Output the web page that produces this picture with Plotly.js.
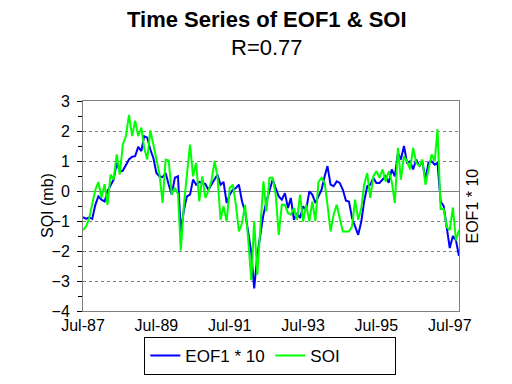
<!DOCTYPE html>
<html><head><meta charset="utf-8">
<script src="https://cdn.plot.ly/plotly-3.0.1.min.js"></script>
<style>html,body{margin:0;padding:0;background:#fff}#chart{width:512px;height:384px}</style>
</head><body><div id="chart"></div>
<script>
// Monthly values, Jul-1987 .. Oct-1997
const startYear = 1987, startMonth = 7;
const eof1x10 = [
 -0.87,-0.93,-0.88,-0.93,-0.46,-0.18,-0.29,-0.35,0.00,0.19,0.38,0.94,
 0.64,0.68,0.88,1.05,1.14,1.16,1.47,1.33,1.83,1.78,1.39,1.10,
 0.60,0.49,0.46,0.60,0.21,-0.12,0.44,0.49,-1.35,-0.63,-0.18,-0.12,
 0.38,0.21,0.30,0.27,0.23,0.04,0.21,0.38,0.55,0.21,0.30,-0.40,
 -0.12,0.04,0.10,0.21,-0.35,-0.68,-1.35,-2.05,-3.25,-2.15,-1.46,-0.79,
 -0.35,-0.01,0.38,0.10,-0.18,-0.29,-0.07,-0.57,-0.23,-0.96,-0.74,-0.90,
 -0.51,-0.63,-0.01,-0.12,-0.40,-0.18,0.04,0.49,0.83,0.21,0.16,0.32,
 0.27,0.04,-0.32,-0.35,-0.90,-1.18,-1.46,-1.02,-0.35,0.16,0.21,0.44,
 0.27,0.27,0.38,0.49,0.27,0.72,0.49,1.27,1.05,1.50,0.94,0.99,
 0.72,1.05,0.83,0.99,0.38,0.94,0.99,0.88,0.94,-0.35,-0.50,-1.30,
 -1.90,-1.50,-1.65,-2.17
];
const soi = [
 -1.30,-1.18,-0.90,-0.46,0.04,0.30,-0.23,0.23,-0.46,0.55,0.38,1.22,
 0.55,1.55,1.83,2.54,1.83,2.34,1.83,2.11,1.44,1.05,2.02,1.55,
 1.10,0.55,-0.40,1.05,1.02,-0.12,0.10,-0.10,-1.98,-0.46,0.55,1.55,
 0.49,0.94,-0.35,0.49,-0.23,0.00,0.35,1.00,0.49,-0.96,-0.51,-1.02,
 0.10,0.21,-0.46,-1.35,-1.07,-0.46,-1.60,-2.97,-1.00,-2.80,-1.24,0.32,
 -0.68,0.44,0.44,-0.12,-1.46,-0.46,-0.46,-0.74,-0.79,-0.57,-0.96,-0.12,
 -1.02,-0.46,-1.02,-0.35,-1.00,0.30,0.44,0.27,-0.46,-1.35,-0.79,-0.46,
 -0.90,-1.35,-1.35,-1.35,-1.18,-0.29,-0.96,-0.57,0.21,0.60,-0.23,0.49,
 0.66,0.44,0.72,0.32,0.66,0.32,-0.40,1.44,0.38,1.16,0.99,0.72,
 1.44,0.94,0.83,1.05,0.21,0.72,1.22,0.99,2.06,-0.60,-0.60,-1.20,
 -1.30,-0.55,-1.65,-1.30
];
const tickVals = ['1987-07-01','1989-07-01','1991-07-01','1993-07-01','1995-07-01','1997-07-01'];
const tickText = ['Jul-87','Jul-89','Jul-91','Jul-93','Jul-95','Jul-97'];

const months = eof1x10.map((_, i) => {
  const t = startMonth - 1 + i;
  const y = startYear + Math.floor(t / 12), m = (t % 12) + 1;
  return y + '-' + String(m).padStart(2, '0') + '-01';
});

const F = 'Arial, "Liberation Sans", sans-serif';
const traces = [
  {x: months, y: eof1x10, type: 'scatter', mode: 'lines', name: 'EOF1 * 10',
   line: {color: '#0000FF', width: 2}},
  {x: months, y: soi, type: 'scatter', mode: 'lines', name: 'SOI',
   line: {color: '#00FF00', width: 2}}
];
const layout = {
  width: 512, height: 384,
  paper_bgcolor: '#fff', plot_bgcolor: '#fff',
  margin: {l: 83, r: 53, t: 101, b: 73},
  font: {family: F, color: '#000'},
  showlegend: true,
  legend: {orientation: 'h', xref: 'container', yref: 'container',
           x: 0.528, xanchor: 'center', y: 0.073, yanchor: 'middle',
           bordercolor: '#000', borderwidth: 1, font: {size: 17, family: F},
           tracegroupgap: 0, itemwidth: 30, entrywidth: 80, entrywidthmode: 'pixels'},
  xaxis: {type: 'date', range: ['1987-07-01', '1997-10-01'],
          tickvals: tickVals, ticktext: tickText, tickangle: 0,
          tickfont: {size: 16, family: F}, ticks: '',
          showgrid: false, zeroline: false,
          showline: true, linecolor: '#808080', linewidth: 1, mirror: true},
  yaxis: {range: [-4, 3], dtick: 1, tick0: 0,
          tickfont: {size: 16, family: F}, ticklabelstandoff: 4,
          ticks: 'outside', ticklen: 5, tickcolor: '#000',
          minor: {dtick: 0.5, ticks: 'outside', ticklen: 4, tickcolor: '#000', showgrid: false},
          showgrid: true, gridcolor: '#808080', griddash: 'dot', gridwidth: 1,
          zeroline: true, zerolinecolor: '#808080', zerolinewidth: 1,
          showline: true, linecolor: '#808080', linewidth: 1, mirror: true},
  annotations: [
    {text: '<b>Time Series of EOF1 & SOI</b>', xref: 'paper', yref: 'paper',
     x: 0.49, xanchor: 'center', y: 1.386, yanchor: 'middle', showarrow: false,
     font: {size: 22, family: F, color: '#000'}},
    {text: 'R=0.77', xref: 'paper', yref: 'paper',
     x: 0.49, xanchor: 'center', y: 1.257, yanchor: 'middle', showarrow: false,
     font: {size: 22, family: F, color: '#000'}},
    {text: 'SOI (mb)', xref: 'paper', yref: 'paper', x: -0.0957, xanchor: 'center',
     y: 0.5, yanchor: 'middle', textangle: -90, showarrow: false,
     font: {size: 16, family: F, color: '#000'}},
    {text: 'EOF1 * 10', xref: 'paper', yref: 'paper', x: 1, xshift: 2,
     xanchor: 'left', y: 0.5, yanchor: 'middle', textangle: -90,
     showarrow: false, font: {size: 16, family: F, color: '#000'}}]
};
Plotly.newPlot('chart', traces, layout, {displayModeBar: false, staticPlot: true});
</script></body></html>
